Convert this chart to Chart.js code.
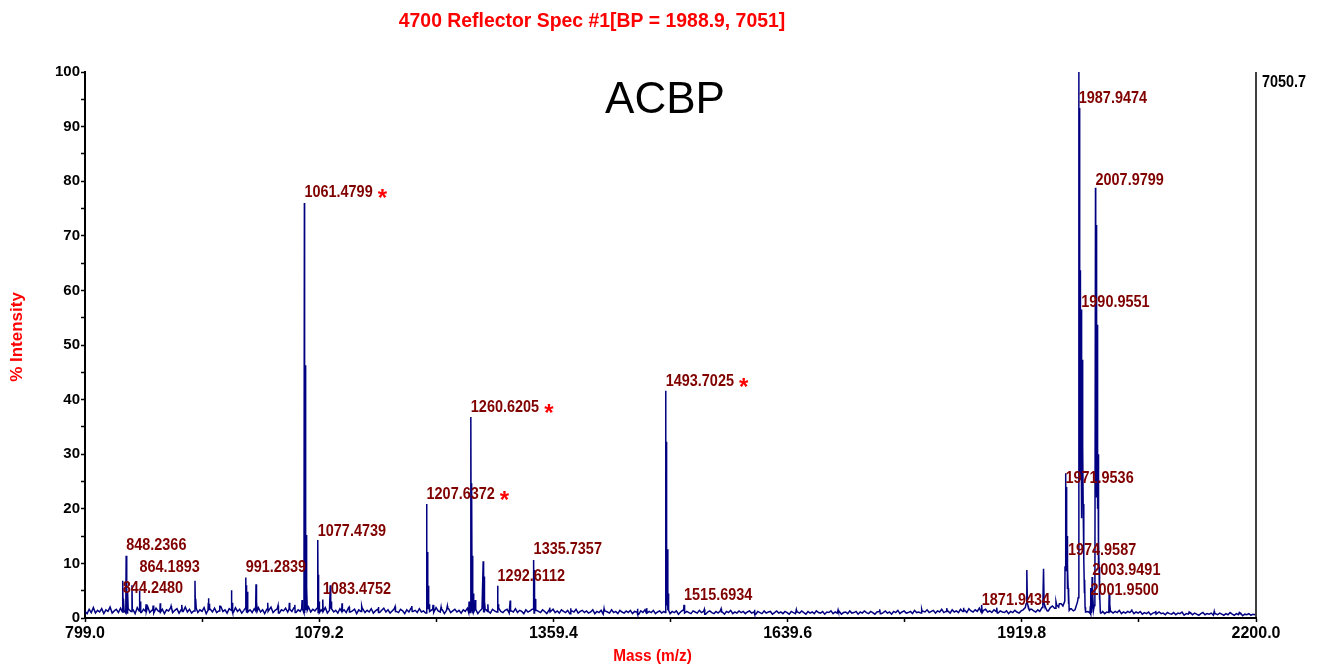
<!DOCTYPE html>
<html>
<head>
<meta charset="utf-8">
<script src="https://cdn.jsdelivr.net/npm/chart.js@4.4.1/dist/chart.umd.min.js"></script>
<style>
  html, body { margin: 0; padding: 0; background: #ffffff; }
  canvas { display: block; }
</style>
</head>
<body>
<canvas id="c" width="1318" height="666"></canvas>
<script>
// ---------------- DATA ----------------
const chartTitle = '4700 Reflector Spec #1[BP = 1988.9, 7051]';
const xTitle = 'Mass (m/z)';
const yTitle = '% Intensity';
const sampleName = 'ACBP';
const maxCounts = '7050.7';

const xTickValues = [799.0, 939.1, 1079.2, 1219.3, 1359.4, 1499.5, 1639.6, 1779.7, 1919.8, 2059.9, 2200.0];
const xTickLabels = ['799.0', '', '1079.2', '', '1359.4', '', '1639.6', '', '1919.8', '', '2200.0'];
const yTickValues = [0, 5, 10, 15, 20, 25, 30, 35, 40, 45, 50, 55, 60, 65, 70, 75, 80, 85, 90, 95, 100];
const yTickLabels = ['0', '', '10', '', '20', '', '30', '', '40', '', '50', '', '60', '', '70', '', '80', '', '90', '', '100'];

// baseline noise level (% intensity), read every 2.5 m/z starting at 799
const baselineStart = 799;
const baselineStep = 2.5;
const baselineLevel = [
  1.2,0.8,1.6,1.0,1.9,0.9,1.4,1.1,1.7,0.8,1.5,1.2,2.0,0.9,1.3,1.6,1.0,1.8,1.1,1.4,
  0.9,1.7,1.2,1.5,0.8,1.9,1.3,1.0,1.6,1.2,2.1,1.0,1.4,0.9,1.8,1.3,1.1,1.6,0.8,1.5,
  1.3,1.9,1.0,1.4,1.7,0.9,1.5,1.2,2.0,1.1,1.6,0.9,1.3,1.8,1.0,1.5,1.2,1.9,0.8,1.4,
  1.6,1.1,1.8,1.0,1.3,2.1,1.2,1.5,0.9,1.7,1.4,1.0,1.9,1.2,1.6,0.9,1.4,1.8,1.1,1.5,
  1.0,1.7,1.3,1.9,1.1,1.5,0.8,1.6,1.2,2.0,1.0,1.4,1.7,0.9,1.5,1.3,1.8,1.1,1.6,1.2,
  1.9,1.0,1.5,1.2,1.7,0.9,1.4,2.0,1.1,1.6,1.3,1.8,1.0,1.5,1.2,1.9,0.9,1.4,1.7,1.1,
  1.4,0.9,1.7,1.2,1.5,1.0,1.8,1.1,1.3,1.6,0.8,1.5,1.2,1.9,1.0,1.4,1.1,1.7,0.9,1.3,
  1.6,1.0,1.4,1.8,1.1,1.5,0.9,1.3,1.7,1.2,1.0,1.6,1.3,0.8,1.5,1.1,1.8,1.2,1.4,1.0,
  1.7,1.1,1.3,0.9,1.6,1.2,1.5,1.0,1.9,1.3,1.1,1.5,0.8,1.4,1.7,1.0,1.3,1.6,1.1,1.4,
  0.9,1.5,1.2,1.8,1.0,1.4,1.1,1.6,0.8,1.3,1.7,1.0,1.5,1.2,0.9,1.6,1.3,1.1,1.8,1.2,
  1.0,1.4,1.6,0.9,1.3,1.1,1.7,1.0,1.4,1.2,0.8,1.5,1.1,1.3,1.6,0.9,1.4,1.2,1.0,1.5,
  1.2,0.8,1.4,1.1,1.6,1.0,1.3,0.9,1.5,1.2,1.0,1.4,0.8,1.3,1.1,1.6,0.9,1.2,1.4,1.0,
  1.3,0.9,1.1,1.5,0.8,1.2,1.0,1.4,0.7,1.3,1.1,0.9,1.5,1.0,1.2,0.8,1.4,1.1,0.9,1.3,
  1.0,1.4,0.8,1.2,1.1,0.7,1.3,1.0,1.5,0.9,1.2,1.0,1.4,0.8,1.1,1.3,0.9,1.2,1.0,1.4,
  0.8,1.2,1.0,1.3,0.7,1.1,1.4,0.9,1.2,1.0,0.8,1.3,1.1,0.9,1.4,1.0,1.2,0.7,1.1,1.3,
  1.0,0.8,1.2,0.9,1.3,1.1,0.7,1.2,1.0,1.4,0.8,1.1,0.9,1.3,1.0,1.2,0.8,1.1,1.3,0.9,
  1.1,0.7,1.2,1.0,0.8,1.3,0.9,1.1,1.2,0.7,1.0,1.3,0.9,1.1,0.8,1.2,1.0,0.7,1.2,1.0,
  0.8,1.1,0.9,1.3,1.0,0.7,1.2,0.9,1.1,0.8,1.3,1.0,0.9,1.2,0.7,1.1,1.0,1.3,0.8,1.1,
  0.9,1.2,0.7,1.0,1.1,0.8,1.3,0.9,1.0,1.2,0.7,1.1,0.9,1.3,1.0,0.8,1.2,1.0,0.7,1.1,
  1.2,0.8,1.0,1.3,0.9,1.1,0.7,1.2,1.0,1.4,0.8,1.1,1.3,0.9,1.0,1.2,0.8,1.4,1.0,1.1,
  0.9,1.3,1.1,1.5,1.0,1.2,1.4,0.9,1.3,1.1,1.6,1.0,1.2,1.4,0.9,1.5,1.1,1.3,1.0,1.6,
  1.2,1.4,1.0,1.7,1.3,1.1,1.5,1.2,1.8,1.0,1.4,1.6,1.1,1.3,1.0,1.5,1.2,0.9,1.3,1.1,
  1.0,1.3,0.8,1.2,1.0,1.4,1.1,0.9,1.3,1.5,1.2,1.0,1.4,1.6,1.3,1.1,1.5,1.2,1.4,1.3,
  1.6,1.3,1.9,2.2,1.8,2.4,2.0,2.6,2.2,1.9,1.6,1.4,1.7,1.3,1.5,1.2,1.4,1.6,1.3,1.1,
  1.2,0.9,1.1,0.8,1.3,1.0,0.9,1.2,0.8,1.1,1.0,1.3,0.9,1.2,1.0,1.4,0.8,1.1,0.9,1.2,
  1.0,1.3,0.8,1.1,0.9,1.2,0.7,1.0,0.8,1.1,0.6,0.9,1.0,0.7,1.1,0.8,0.9,0.6,1.0,0.8,
  0.7,1.0,0.6,0.9,0.8,1.1,0.5,0.8,0.7,1.0,0.6,0.9,0.7,0.5,0.8,1.0,0.6,0.8,0.7,0.9,
  0.5,0.8,0.6,0.9,0.7,0.5,0.8,0.6,1.0,0.7,0.5,0.8,0.6,0.9,0.4,0.7,0.6,0.8,0.5,0.7,
  0.6
];

// peaks: centre m/z, height (% intensity), half width at base (m/z)
const peakMz = [
  844.25, 845.25, 848.24, 849.24, 850.2, 855.2, 864.19, 865.19, 872.0, 880.5, 889.0, 902.0, 915.0,
  930.6, 931.6, 946.6, 947.6, 960.0, 974.4, 975.4, 991.28, 992.3, 993.3, 1003.6, 1004.6, 1017.6, 1030.0, 1043.5, 1050.0, 1058.7,
  1061.48, 1062.48, 1063.48, 1064.48, 1077.47, 1078.47, 1079.47, 1083.48, 1092.5, 1093.5, 1106.5, 1115.0, 1130.0, 1150.0, 1170.0, 1190.0,
  1207.64, 1208.64, 1209.64, 1210.64, 1215.4, 1225.0, 1232.5, 1258.5, 1260.62, 1261.62, 1262.62, 1263.62, 1266.0, 1275.4, 1276.4, 1277.4, 1281.0, 1292.61, 1293.61, 1307.7, 1335.74, 1336.74, 1337.74, 1355.0, 1380.0, 1420.0, 1460.0, 1471.0,
  1493.70, 1494.70, 1495.70, 1496.70, 1515.69, 1540.0, 1560.0, 1600.0, 1650.0, 1700.0, 1750.0, 1800.0, 1830.0, 1850.0, 1871.94, 1890.0,
  1925.8, 1925.8, 1945.8, 1945.8, 1960.7, 1964.7,
  1971.95, 1972.95, 1973.95, 1974.96, 1975.96, 1972.5,
  1987.95, 1988.95, 1989.95, 1990.96, 1991.96, 1992.96, 1993.96, 1994.96, 1989.5,
  2001.95, 2003.95, 2004.95,
  2007.98, 2008.98, 2009.98, 2010.98, 2011.98, 2012.98, 2009.5,
  2024.3, 2025.3, 2051.3, 2080.0, 2120.0, 2150.0, 2180.0
];
const peakHeight = [
  6.8, 3.5, 11.4, 5.0, 4.8, 6.0, 5.0, 3.0, 2.5, 2.3, 2.7, 2.2, 2.4,
  6.8, 3.5, 3.6, 2.6, 2.3, 5.1, 2.8, 7.4, 6.0, 4.8, 6.2, 3.0, 2.8, 2.3, 2.8, 2.4, 3.3,
  76.0, 46.3, 15.2, 5.5, 14.3, 7.9, 3.0, 3.4, 6.0, 3.0, 2.7, 2.0, 2.2, 2.0, 2.1, 2.2,
  20.9, 12.1, 5.9, 2.5, 2.4, 2.0, 2.2, 3.0, 36.8, 24.7, 11.4, 4.5, 3.3, 10.4, 7.6, 3.0, 2.5, 5.9, 2.5, 3.2, 10.6, 8.8, 3.5, 1.9, 1.8, 1.7, 1.7, 1.8,
  41.6, 32.3, 12.6, 4.5, 2.4, 1.6, 1.7, 1.5, 1.5, 1.5, 1.6, 1.6, 1.8, 1.9, 2.4, 1.9,
  8.8, 3.2, 9.0, 3.2, 3.0, 2.6,
  26.5, 24.0, 15.0, 9.5, 4.5, 4.0,
  100.0, 93.4, 63.7, 56.5, 47.3, 31.3, 16.0, 7.0, 6.0,
  5.5, 7.5, 5.0,
  78.8, 72.0, 53.7, 30.0, 14.0, 5.0, 5.0,
  4.6, 2.5, 1.6, 1.3, 1.1, 1.2, 1.0
];
const peakHalfWidth = [
  0.45, 0.45, 0.45, 0.45, 0.45, 0.45, 0.45, 0.45, 0.45, 0.45, 0.45, 0.45, 0.45,
  0.45, 0.45, 0.45, 0.45, 0.45, 0.45, 0.45, 0.45, 0.45, 0.45, 0.45, 0.45, 0.45, 0.45, 0.45, 0.45, 0.45,
  0.5, 0.5, 0.5, 0.5, 0.45, 0.45, 0.45, 0.45, 0.45, 0.45, 0.45, 0.45, 0.45, 0.45, 0.45, 0.45,
  0.5, 0.5, 0.5, 0.45, 0.45, 0.45, 0.45, 0.45, 0.5, 0.5, 0.5, 0.5, 0.45, 0.5, 0.5, 0.45, 0.45, 0.5, 0.45, 0.45, 0.5, 0.5, 0.5, 0.45, 0.45, 0.45, 0.45, 0.45,
  0.55, 0.55, 0.55, 0.55, 0.5, 0.5, 0.5, 0.5, 0.5, 0.5, 0.5, 0.5, 0.5, 0.5, 0.5, 0.5,
  0.8, 4.5, 0.8, 4.5, 0.8, 0.8,
  0.7, 0.7, 0.7, 0.7, 0.7, 5.5,
  0.75, 0.75, 0.75, 0.75, 0.75, 0.75, 0.75, 0.75, 6.0,
  0.6, 0.6, 0.6,
  0.75, 0.75, 0.75, 0.75, 0.75, 0.75, 5.5,
  0.5, 0.5, 0.5, 0.5, 0.5, 0.5, 0.5
];

// peak annotations: text (its m/z), vertical level of the text (% intensity), starred
const labelText = ['844.2480', '848.2366', '864.1893', '991.2839', '1061.4799', '1077.4739', '1083.4752',
  '1207.6372', '1260.6205', '1292.6112', '1335.7357', '1493.7025', '1515.6934', '1871.9434',
  '1971.9536', '1974.9587', '1987.9474', '1990.9551', '2001.9500', '2003.9491', '2007.9799'];
const labelLevel = [5.4, 13.3, 9.2, 9.2, 78.0, 15.8, 5.3,
  22.7, 38.5, 7.7, 12.5, 43.4, 4.2, 3.3,
  25.6, 12.4, 95.1, 57.8, 5.1, 8.8, 80.2];
const labelStar = [false, false, false, false, true, false, false,
  true, true, false, false, true, false, false,
  false, false, false, false, false, false, false];

// ---------------- BUILD TRACE ----------------
function baselineAt(m) {
  let i = Math.round((m - baselineStart) / baselineStep);
  i = Math.max(0, Math.min(baselineLevel.length - 1, i));
  return baselineLevel[i];
}
const xSet = new Set();
baselineLevel.forEach((_, i) => xSet.add(+(baselineStart + i * baselineStep).toFixed(3)));
peakMz.forEach((m, i) => {
  xSet.add(m);
  xSet.add(+(m - peakHalfWidth[i]).toFixed(3));
  xSet.add(+(m + peakHalfWidth[i]).toFixed(3));
});
const xs = Array.from(xSet).sort((a, b) => a - b);
const trace = xs.map(xv => {
  let yv = baselineAt(xv);
  for (let k = 0; k < peakMz.length; k++) {
    const d = Math.abs(xv - peakMz[k]);
    if (d < peakHalfWidth[k]) {
      const v = peakHeight[k] * (1 - d / peakHalfWidth[k]);
      if (v > yv) yv = v;
    }
  }
  return { x: xv, y: yv };
});

// ---------------- DRAW ----------------
const FONT = '"Liberation Sans", Arial, Helvetica, sans-serif';
Chart.defaults.font.family = FONT;

function drawScaled(ctx, text, x, y, font, color, sx, align, baseline) {
  ctx.save();
  ctx.font = font;
  ctx.fillStyle = color;
  ctx.textAlign = align || 'left';
  ctx.textBaseline = baseline || 'middle';
  ctx.translate(x, y);
  ctx.scale(sx, 1);
  ctx.fillText(text, 0, 0);
  const w = ctx.measureText(text).width * sx;
  ctx.restore();
  return w;
}

const textPlugin = {
  id: 'spectrumTexts',
  afterDraw(chart) {
    const { ctx, chartArea: a, scales } = chart;
    const xs = scales.x, ys = scales.y;
    ctx.save();
    // right frame line
    ctx.strokeStyle = '#000';
    ctx.lineWidth = 1.5;
    ctx.beginPath();
    ctx.moveTo(a.right, a.top);
    ctx.lineTo(a.right, a.bottom);
    ctx.stroke();

    // peak labels
    labelText.forEach((t, i) => {
      const px = xs.getPixelForValue(parseFloat(t));
      const py = ys.getPixelForValue(labelLevel[i]);
      const w = drawScaled(ctx, t, px, py, 'bold 17px ' + FONT, '#800000', 0.85, 'left', 'middle');
      if (labelStar[i]) {
        drawScaled(ctx, '*', px + w + 5, py + 13.5, 'bold 24px ' + FONT, '#ff0000', 1, 'left', 'alphabetic');
      }
    });

    // title, sample name, max counts
    drawScaled(ctx, chartTitle, 592, 22, 'bold 19.4px ' + FONT, '#ff0000', 1, 'center', 'middle');
    drawScaled(ctx, sampleName, 665, 113, '44px ' + FONT, '#000000', 1, 'center', 'alphabetic');
    drawScaled(ctx, maxCounts, a.right + 6, 83, 'bold 16px ' + FONT, '#000000', 0.9, 'left', 'middle');

    // axis titles
    drawScaled(ctx, xTitle, (a.left + a.right) / 2 - 18, 657, 'bold 16px ' + FONT, '#ff0000', 0.96, 'center', 'middle');
    ctx.save();
    ctx.translate(17, 337);
    ctx.rotate(-Math.PI / 2);
    drawScaled(ctx, yTitle, 0, 0, 'bold 17px ' + FONT, '#ff0000', 1, 'center', 'middle');
    ctx.restore();
    ctx.restore();
  }
};

new Chart(document.getElementById('c').getContext('2d'), {
  type: 'line',
  data: {
    datasets: [{
      data: trace,
      borderColor: '#000080',
      borderWidth: 1.5,
      pointRadius: 0,
      fill: false,
      tension: 0
    }]
  },
  options: {
    responsive: false,
    animation: false,
    parsing: false,
    normalized: true,
    events: [],
    layout: { padding: { top: 72, left: 0, right: 62, bottom: 0 } },
    plugins: { legend: { display: false }, tooltip: { enabled: false }, title: { display: false } },
    scales: {
      x: {
        type: 'linear',
        min: 799,
        max: 2200,
        afterBuildTicks: s => { s.ticks = xTickValues.map(v => ({ value: v })); },
        afterFit: s => { s.height = 48; },
        ticks: {
          autoSkip: false,
          maxRotation: 0,
          padding: 2,
          color: '#000',
          font: { size: 16, weight: 'bold', family: FONT },
          callback: (v) => {
            const i = xTickValues.findIndex(t => Math.abs(t - v) < 1e-6);
            return i >= 0 ? xTickLabels[i] : '';
          }
        },
        grid: { drawOnChartArea: false, drawTicks: true, tickLength: 4, tickColor: '#000', tickWidth: 1.5 },
        border: { display: true, color: '#000', width: 2 }
      },
      y: {
        type: 'linear',
        min: 0,
        max: 100,
        afterBuildTicks: s => { s.ticks = yTickValues.map(v => ({ value: v })); },
        afterFit: s => { s.width = 85; },
        ticks: {
          autoSkip: false,
          padding: 1,
          color: '#000',
          font: { size: 15, weight: 'bold', family: FONT },
          callback: (v) => {
            const i = yTickValues.indexOf(v);
            return i >= 0 ? yTickLabels[i] : '';
          }
        },
        grid: { drawOnChartArea: false, drawTicks: true, tickLength: 4, tickColor: '#000', tickWidth: 1.5 },
        border: { display: true, color: '#000', width: 2 }
      }
    }
  },
  plugins: [textPlugin]
});
</script>
</body>
</html>
